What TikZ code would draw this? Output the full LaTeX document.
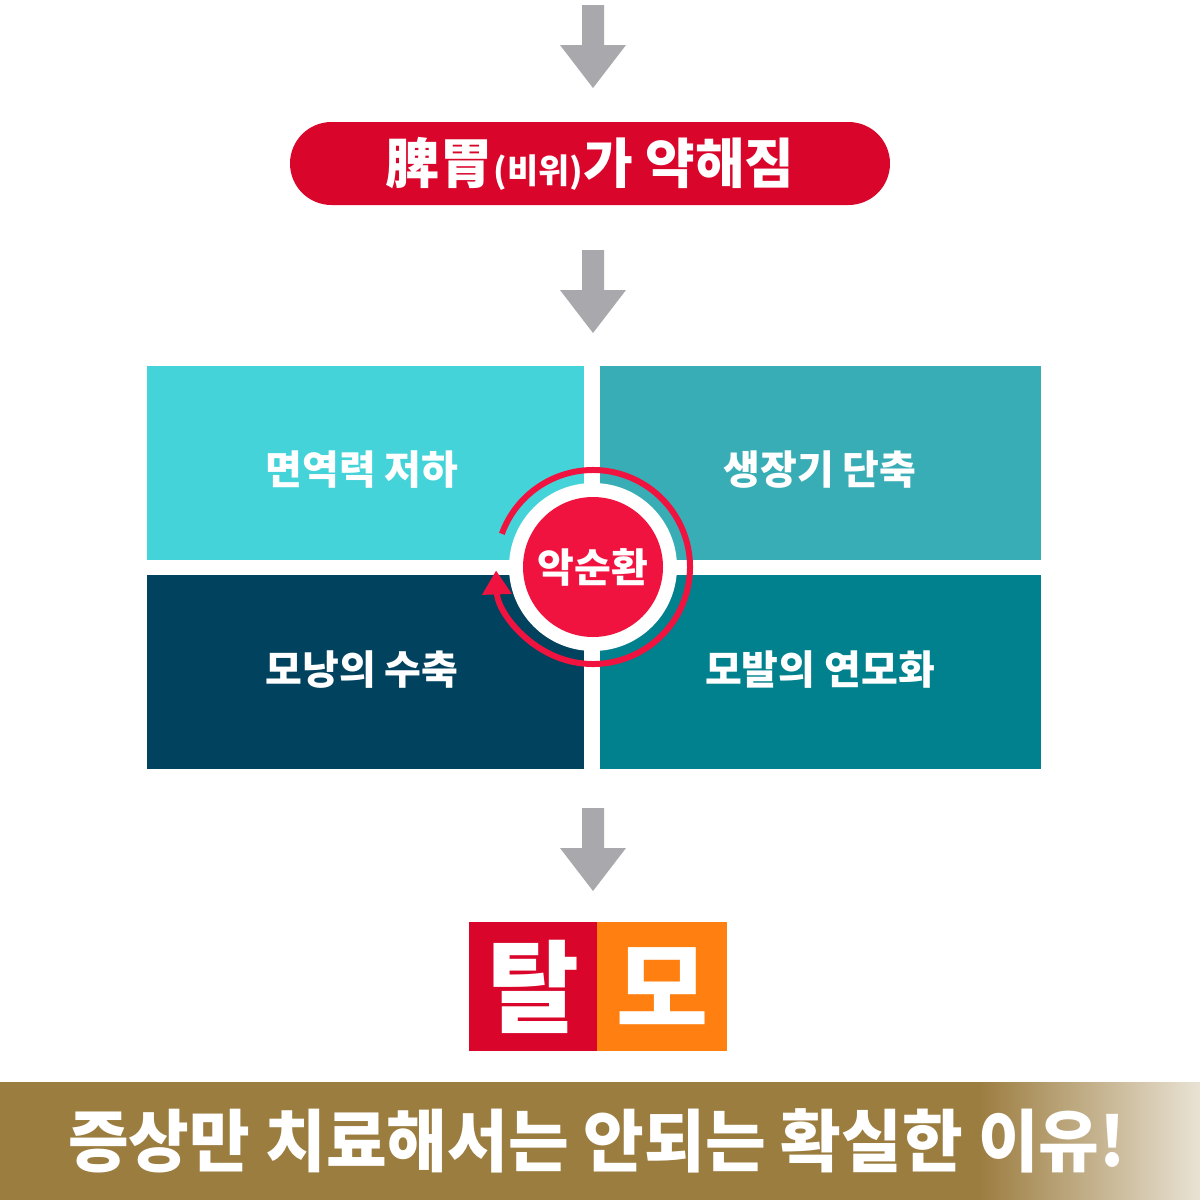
\documentclass[tikz,border=0pt]{standalone}
\usepackage{fontspec}
\setmainfont{Noto Sans CJK KR}
\usetikzlibrary{arrows.meta}
\definecolor{garr}{HTML}{A8A8AD}
\definecolor{pred}{HTML}{D9052B}
\definecolor{cred}{HTML}{F0133F}
\definecolor{qtl}{HTML}{45D3DA}
\definecolor{qtr}{HTML}{39ADB5}
\definecolor{qbl}{HTML}{01435F}
\definecolor{qbr}{HTML}{01818D}
\definecolor{orng}{HTML}{FF8010}
\definecolor{gold}{HTML}{9C7D40}
\definecolor{goldl}{HTML}{E9E2D4}
\begin{document}
\begin{tikzpicture}[x=0.5pt,y=-0.5pt,
  lbl/.style={text=white,font=\bfseries\fontsize{20}{24}\selectfont},
  quad/.style={inner sep=0,minimum width=218.5pt,minimum height=97pt,anchor=north west},
  downarrow/.style={fill=garr}]
\useasboundingbox (0,0) rectangle (1200,1200);
\fill[white] (0,0) rectangle (1200,1200);
% gray arrows
\foreach \t in {5,250,808}{
  \fill[garr] (582,\t) -- (604,\t) -- (604,\t+40) -- (626,\t+40) -- (593,\t+83) -- (560,\t+40) -- (582,\t+40) -- cycle;
}
% pill
\node[fill=pred,rounded corners=20.75pt,minimum width=300pt,minimum height=41.5pt,inner sep=0,text=white,font=\bfseries\fontsize{27}{30}\selectfont] (pill) at (590,163.5) {脾胃{\fontsize{17}{20}\selectfont(비위)}가 약해짐};
% quadrants
\node[quad,fill=qtl] (tl) at (147,366) {};
\node[quad,fill=qtr,minimum width=220.5pt] (tr) at (600,366) {};
\node[quad,fill=qbl] (bl) at (147,575) {};
\node[quad,fill=qbr,minimum width=220.5pt] (br) at (600,575) {};
\node[lbl] at (362,470) {면역력 저하};
\node[lbl] at (820,470) {생장기 단축};
\node[lbl] at (362,670) {모낭의 수축};
\node[lbl] at (820,670) {모발의 연모화};
% center
\fill[white] (593,567) circle (84);
\draw[cred,line width=3pt,-{Triangle[length=12pt,width=14pt]}] (593,567) ++(-160:97) arc[start angle=-160,end angle=178,radius=97];
\node[circle,fill=cred,minimum size=70pt,inner sep=0,text=white,font=\bfseries\fontsize{20}{24}\selectfont] (c) at (593,567) {악순환};
% 탈모
\node[fill=pred,minimum width=64pt,minimum height=64.5pt,inner sep=0,anchor=north west,text=white,font=\bfseries\fontsize{50}{56}\selectfont] (t1) at (469,922) {탈};
\node[fill=orng,minimum width=65pt,minimum height=64.5pt,inner sep=0,anchor=north west,text=white,font=\bfseries\fontsize{50}{56}\selectfont] (t2) at (597,922) {모};
% banner
\fill[gold] (0,1082) rectangle (980,1200);
\shade[left color=gold,right color=goldl] (979,1082) rectangle (1200,1200);
\node[text=white,font=\bfseries\fontsize{34}{40}\selectfont,xscale=0.97] (ban) at (597,1141) {증상만 치료해서는 안되는 확실한 이유!};
\end{tikzpicture}
\end{document}
